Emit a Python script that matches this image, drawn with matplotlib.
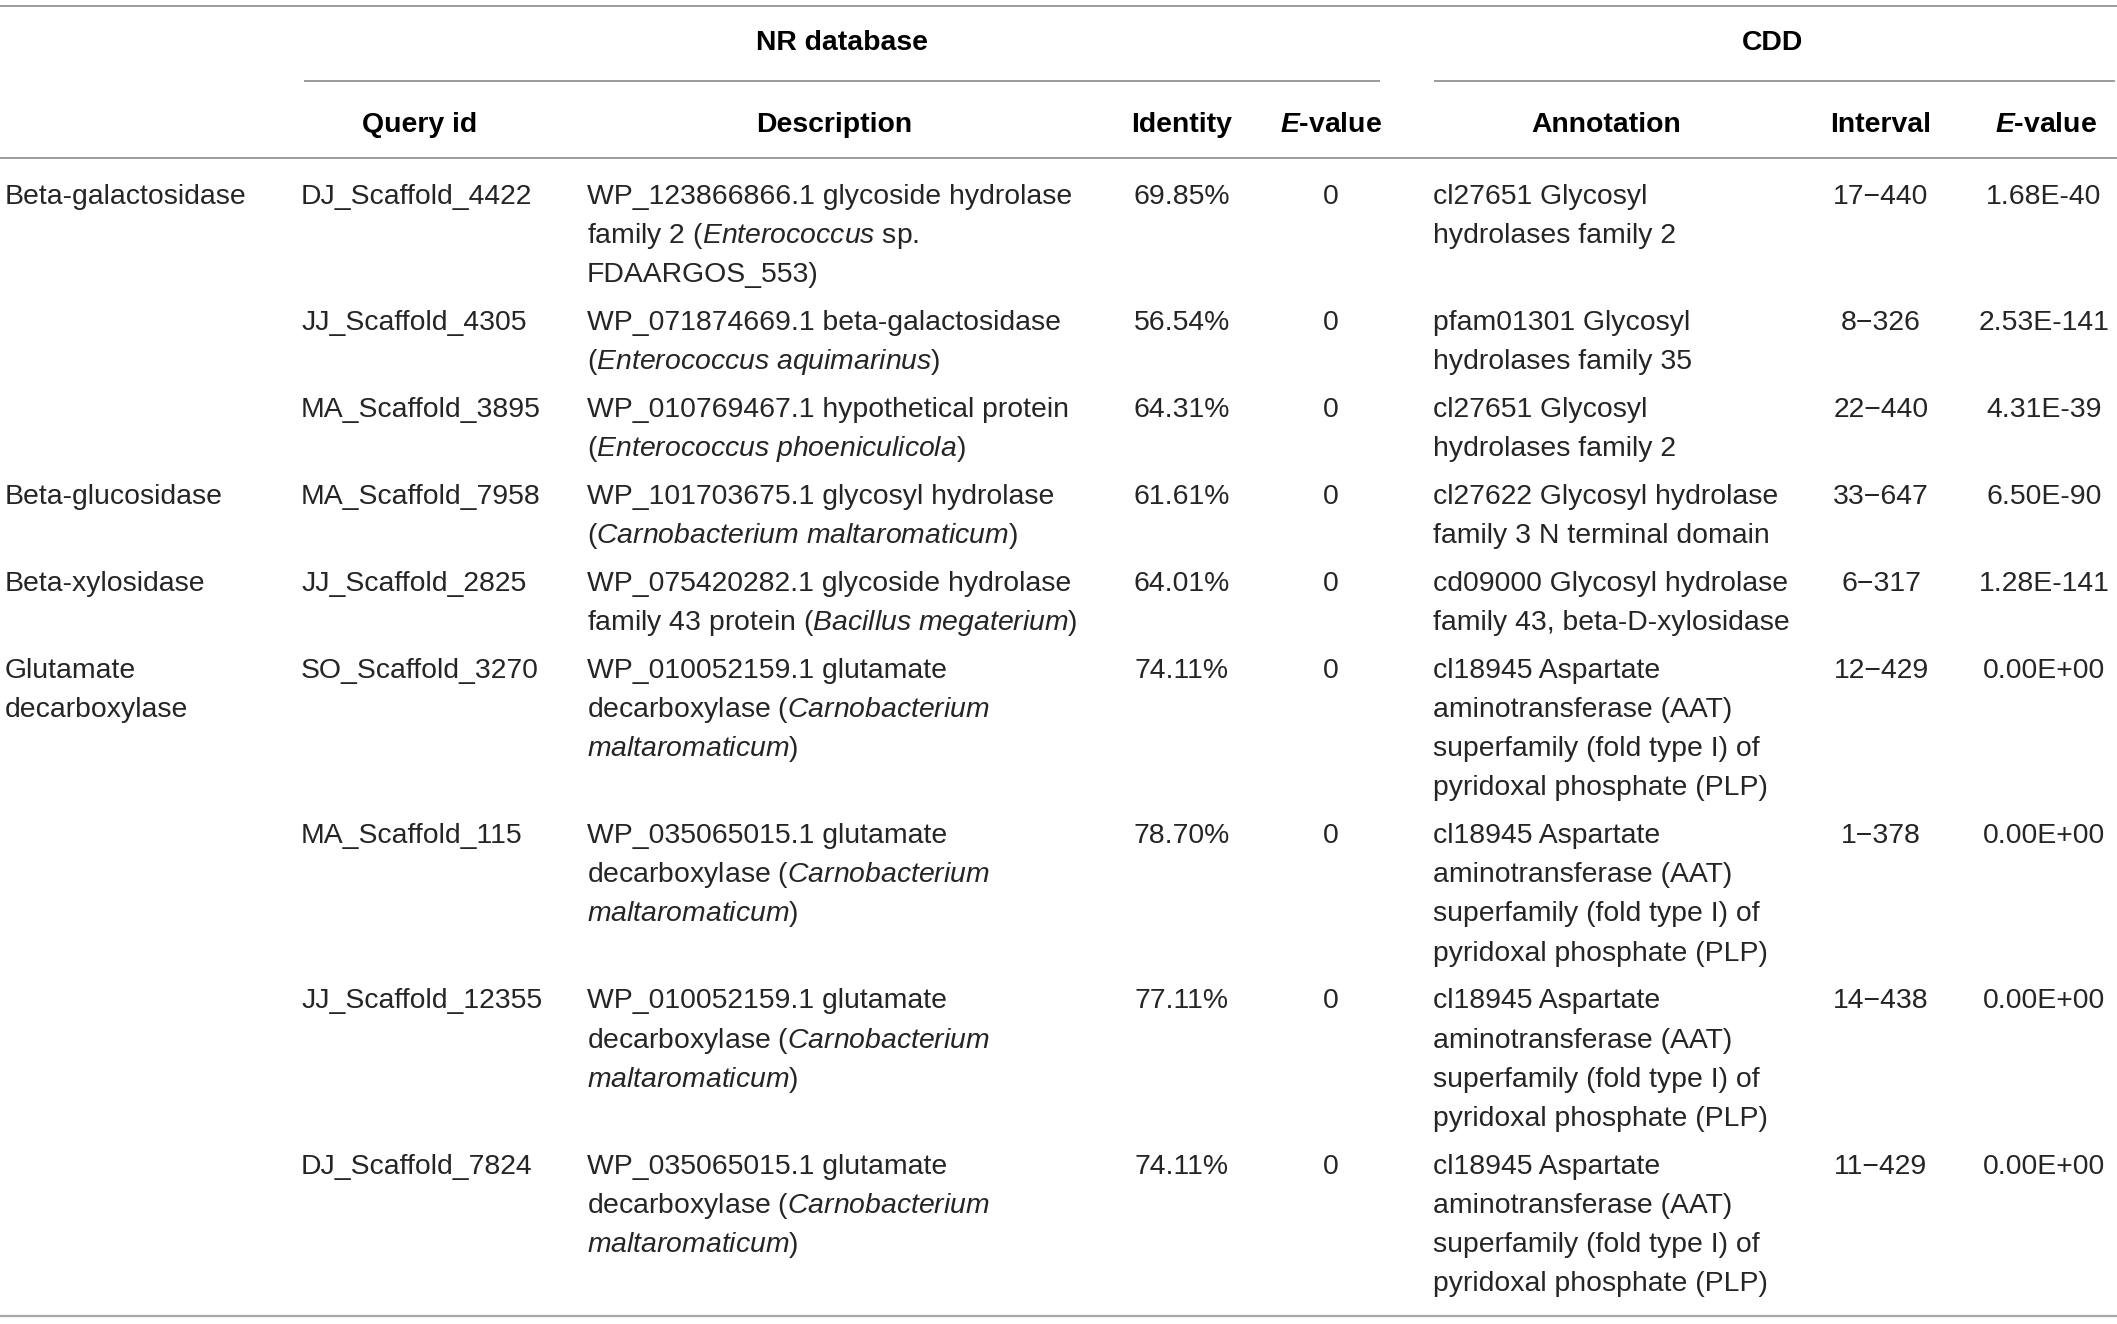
"""
Annotation table for the carbohydrate / GABA related genes.

Rebuilds the NR database and CDD hits table as a matplotlib figure.
"""

import matplotlib
matplotlib.use("Agg")
import matplotlib.pyplot as plt

# ---- data -----------------------------------------------------------------
enzymes = [
    ["Beta-galactosidase"], [], [],
    ["Beta-glucosidase"],
    ["Beta-xylosidase"],
    ["Glutamate", "decarboxylase"], [], [], [],
]

query_ids = [
    "DJ_Scaffold_4422", "JJ_Scaffold_4305", "MA_Scaffold_3895",
    "MA_Scaffold_7958", "JJ_Scaffold_2825", "SO_Scaffold_3270",
    "MA_Scaffold_115", "JJ_Scaffold_12355", "DJ_Scaffold_7824",
]

descriptions = [
    ["WP_123866866.1 glycoside hydrolase",
     r"family 2 ($\mathit{Enterococcus}$ sp.",
     "FDAARGOS_553)"],
    ["WP_071874669.1 beta-galactosidase",
     r"($\mathit{Enterococcus\ aquimarinus}$)"],
    ["WP_010769467.1 hypothetical protein",
     r"($\mathit{Enterococcus\ phoeniculicola}$)"],
    ["WP_101703675.1 glycosyl hydrolase",
     r"($\mathit{Carnobacterium\ maltaromaticum}$)"],
    ["WP_075420282.1 glycoside hydrolase",
     r"family 43 protein ($\mathit{Bacillus\ megaterium}$)"],
    ["WP_010052159.1 glutamate",
     r"decarboxylase ($\mathit{Carnobacterium}$",
     r"$\mathit{maltaromaticum}$)"],
    ["WP_035065015.1 glutamate",
     r"decarboxylase ($\mathit{Carnobacterium}$",
     r"$\mathit{maltaromaticum}$)"],
    ["WP_010052159.1 glutamate",
     r"decarboxylase ($\mathit{Carnobacterium}$",
     r"$\mathit{maltaromaticum}$)"],
    ["WP_035065015.1 glutamate",
     r"decarboxylase ($\mathit{Carnobacterium}$",
     r"$\mathit{maltaromaticum}$)"],
]

identity = ["69.85%", "56.54%", "64.31%", "61.61%", "64.01%",
            "74.11%", "78.70%", "77.11%", "74.11%"]

nr_evalue = ["0"] * 9

plp = ["aminotransferase (AAT)", "superfamily (fold type I) of",
       "pyridoxal phosphate (PLP)"]
annotations = [
    ["cl27651 Glycosyl", "hydrolases family 2"],
    ["pfam01301 Glycosyl", "hydrolases family 35"],
    ["cl27651 Glycosyl", "hydrolases family 2"],
    ["cl27622 Glycosyl hydrolase", "family 3 N terminal domain"],
    ["cd09000 Glycosyl hydrolase", "family 43, beta-D-xylosidase"],
    ["cl18945 Aspartate"] + plp,
    ["cl18945 Aspartate"] + plp,
    ["cl18945 Aspartate"] + plp,
    ["cl18945 Aspartate"] + plp,
]

intervals = ["17\u2212440", "8\u2212326", "22\u2212440", "33\u2212647",
             "6\u2212317", "12\u2212429", "1\u2212378", "14\u2212438",
             "11\u2212429"]

cdd_evalue = ["1.68E-40", "2.53E-141", "4.31E-39", "6.50E-90", "1.28E-141",
              "0.00E+00", "0.00E+00", "0.00E+00", "0.00E+00"]

headers = ["Query id", "Description", "Identity", r"$\mathbfit{E}$-value",
           "Annotation", "Interval", r"$\mathbfit{E}$-value"]

# ---- style ----------------------------------------------------------------
plt.rcParams["font.family"] = ["Liberation Sans", "DejaVu Sans"]
plt.rcParams["mathtext.fontset"] = "custom"
plt.rcParams["mathtext.rm"] = "Liberation Sans"
plt.rcParams["mathtext.it"] = "Liberation Sans:italic"
plt.rcParams["mathtext.bf"] = "Liberation Sans:bold"
plt.rcParams["mathtext.bfit"] = "Liberation Sans:italic:bold"

W, H = 2117, 1324
FS = 20.4
TXT = "#262425"
RULE = "#8a8a8a"
LINE_H = 39.2
ROW_GAP = 8.5
CAP_HALF = 10

fig = plt.figure(figsize=(W / 100, H / 100), dpi=100)
ax = fig.add_axes([0, 0, 1, 1])
ax.set_xlim(0, W)
ax.set_ylim(H, 0)
ax.axis("off")

# rules
ax.hlines([6, 158], 0, W, color=RULE, lw=1.2)
ax.hlines(1316, 0, W, color="#a8a8a8", lw=1.6)
ax.hlines(81, 304, 1380, color=RULE, lw=1.2)
ax.hlines(81, 1434, 2115, color=RULE, lw=1.2)

# group headers
ax.text(842, 40 + CAP_HALF, "NR database", ha="center", va="baseline",
        fontsize=FS, fontweight="bold", color="black")
ax.text(1773, 40 + CAP_HALF, "CDD", ha="center", va="baseline",
        fontsize=FS, fontweight="bold", color="black")

header_x = [420, 834, 1182, 1331, 1606, 1881, 2046]
for hx, h in zip(header_x, headers):
    ax.text(hx, 122 + CAP_HALF, h, ha="center", va="baseline",
            fontsize=FS, fontweight="bold", color="black")

# body
def put(x, y, lines, ha="left"):
    for k, s in enumerate(lines):
        ax.text(x, y + k * LINE_H + CAP_HALF, s, ha=ha, va="baseline",
                fontsize=FS, color=TXT)

y = 194
for i in range(len(query_ids)):
    put(5, y, enzymes[i])
    put(301, y, [query_ids[i]])
    put(587, y, descriptions[i])
    put(1182, y, [identity[i]], ha="center")
    put(1331, y, [nr_evalue[i]], ha="center")
    put(1433, y, annotations[i])
    put(1881, y, [intervals[i]], ha="center")
    put(2044, y, [cdd_evalue[i]], ha="center")
    n = max(len(descriptions[i]), len(annotations[i]), len(enzymes[i]))
    y += n * LINE_H + ROW_GAP

fig.savefig("out.png", dpi=100, facecolor="white")
